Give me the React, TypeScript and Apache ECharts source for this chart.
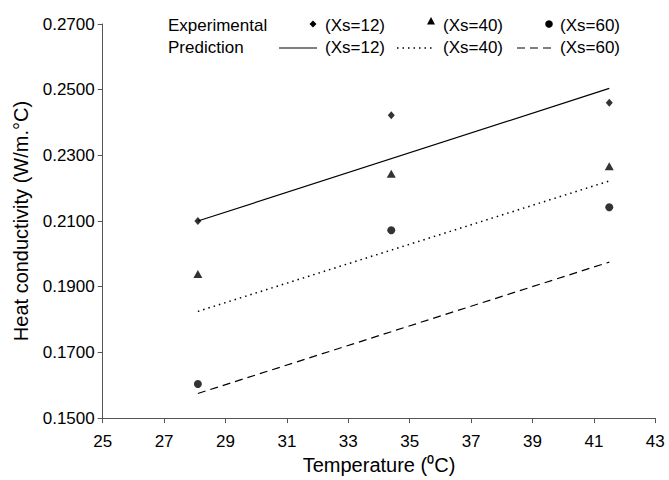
import React, { useEffect, useRef } from "react";
import * as echarts from "echarts";

const tempX = [28.1, 34.4, 41.5];
const expXs12 = [0.21, 0.2422, 0.246];
const expXs40 = [0.1939, 0.2244, 0.2267];
const expXs60 = [0.1604, 0.2072, 0.2142];

const predX = [28.1, 41.5];
const predXs12 = [0.21, 0.2504];
const predXs40 = [0.1825, 0.2222];
const predXs60 = [0.1575, 0.1975];

const legendRow1 = ["Experimental", "(Xs=12)", "(Xs=40)", "(Xs=60)"];
const legendRow2 = ["Prediction", "(Xs=12)", "(Xs=40)", "(Xs=60)"];

const FONT = "'Liberation Sans', Arial, sans-serif";

function pairs(xs: number[], ys: number[]) {
  return xs.map((x, i) => [x, ys[i]]);
}

export default function App() {
  const ref = useRef<HTMLDivElement>(null);
  useEffect(() => {
    if (!ref.current) return;
    const chart = echarts.init(ref.current, null, { renderer: "svg" });
    const txt = (x: number, y: number, s: string) => ({
      type: "text",
      x,
      y,
      style: { text: s, font: `17px ${FONT}`, fill: "#000", textVerticalAlign: "middle" },
    });
    const axisColor = "#555";
    const option: any = {
      animation: false,
      backgroundColor: "#fff",
      grid: { left: 102.7, right: 13.7, top: 24, bottom: 56, containLabel: false },
      xAxis: {
        type: "value",
        min: 25,
        max: 43,
        interval: 2,
        name: "Temperature (⁰C)",
        nameLocation: "middle",
        nameGap: 31,
        nameTextStyle: { fontFamily: FONT, fontSize: 20, color: "#000" },
        axisLine: { lineStyle: { color: axisColor, width: 1 } },
        axisTick: { length: 5, lineStyle: { color: axisColor } },
        axisLabel: { fontFamily: FONT, fontSize: 17, color: "#000", margin: 15 },
        splitLine: { show: false },
      },
      yAxis: {
        type: "value",
        min: 0.15,
        max: 0.27,
        interval: 0.02,
        name: "Heat conductivity (W/m.°C)",
        nameLocation: "middle",
        nameGap: 72,
        nameTextStyle: { fontFamily: FONT, fontSize: 20, color: "#000" },
        axisLine: { show: true, lineStyle: { color: axisColor, width: 1 } },
        axisTick: { show: true, length: 5, lineStyle: { color: axisColor } },
        axisLabel: {
          fontFamily: FONT,
          fontSize: 17,
          color: "#000",
          margin: 8,
          formatter: (v: number) => v.toFixed(4),
        },
        splitLine: { show: false },
      },
      series: [
        {
          name: "Exp Xs=12",
          type: "scatter",
          symbol: "diamond",
          symbolSize: [7, 8],
          itemStyle: { color: "#000" },
          data: pairs(tempX, expXs12),
        },
        {
          name: "Exp Xs=40",
          type: "scatter",
          symbol: "triangle",
          symbolSize: [9, 8],
          itemStyle: { color: "#000" },
          data: pairs(tempX, expXs40),
        },
        {
          name: "Exp Xs=60",
          type: "scatter",
          symbol: "circle",
          symbolSize: 8,
          itemStyle: { color: "#000" },
          data: pairs(tempX, expXs60),
        },
        {
          name: "Pred Xs=12",
          type: "line",
          showSymbol: false,
          lineStyle: { color: "#000", width: 1.2, type: "solid" },
          data: pairs(predX, predXs12),
        },
        {
          name: "Pred Xs=40",
          type: "line",
          showSymbol: false,
          lineStyle: { color: "#000", width: 1.5, type: [1.5, 4] },
          data: pairs(predX, predXs40),
        },
        {
          name: "Pred Xs=60",
          type: "line",
          showSymbol: false,
          lineStyle: { color: "#000", width: 1.2, type: [8, 5] },
          data: pairs(predX, predXs60),
        },
      ],
      graphic: [
        txt(168, 25, legendRow1[0]),
        txt(168, 47, legendRow2[0]),
        { type: "polygon", shape: { points: [[313, 20.5], [316.5, 24], [313, 27.5], [309.5, 24]] }, style: { fill: "#000" } },
        txt(325, 25, legendRow1[1]),
        { type: "polygon", shape: { points: [[431, 17], [435, 24.5], [427, 24.5]] }, style: { fill: "#000" } },
        txt(443, 25, legendRow1[2]),
        { type: "circle", shape: { cx: 549, cy: 24, r: 3.8 }, style: { fill: "#000" } },
        txt(560, 25, legendRow1[3]),
        { type: "line", shape: { x1: 279, y1: 48, x2: 317, y2: 48 }, style: { stroke: "#000", lineWidth: 1.2 } },
        txt(325, 47, legendRow2[1]),
        { type: "line", shape: { x1: 397, y1: 48, x2: 433, y2: 48 }, style: { stroke: "#000", lineWidth: 1.5, lineDash: [1.5, 4] } },
        txt(443, 47, legendRow2[2]),
        { type: "line", shape: { x1: 517, y1: 48, x2: 553, y2: 48 }, style: { stroke: "#000", lineWidth: 1.2, lineDash: [8, 5] } },
        txt(560, 47, legendRow2[3]),
      ],
    };
    chart.setOption(option);
    return () => chart.dispose();
  }, []);
  return <div ref={ref} style={{ width: 669, height: 480, position: "absolute", left: 0, top: 0 }} />;
}
